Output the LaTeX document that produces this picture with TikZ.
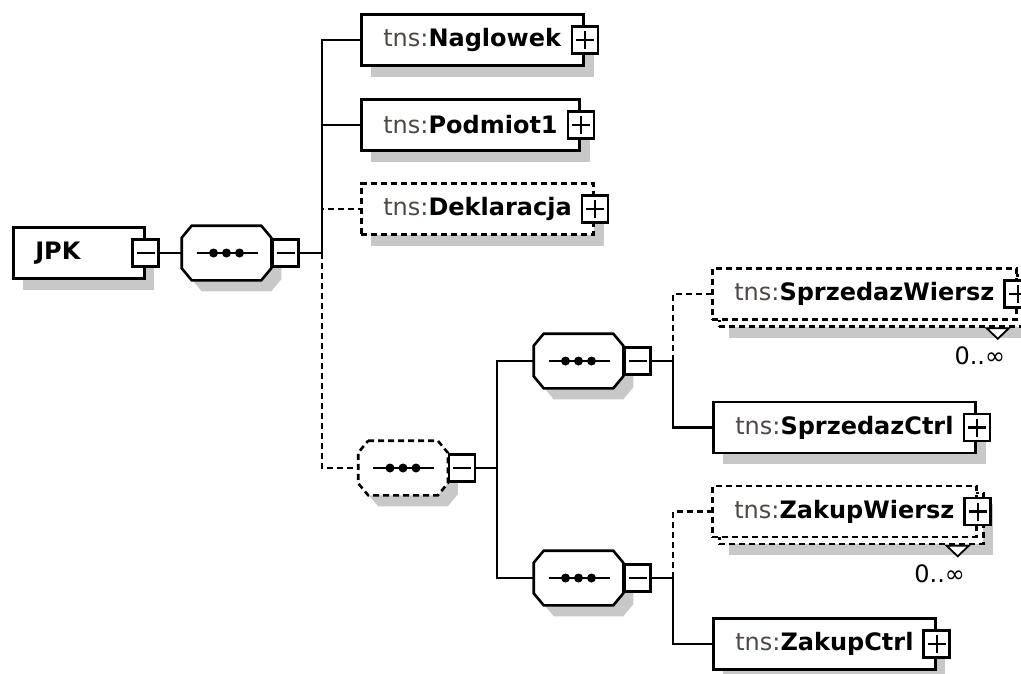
\documentclass[tikz,border=0pt]{standalone}
\usepackage{fontspec}
\setmainfont{DejaVu Sans}
\usetikzlibrary{shadows}
\definecolor{tnsgray}{RGB}{80,70,70}
\definecolor{shadowgray}{RGB}{200,200,200}
\newcommand{\el}[1]{{\color{tnsgray}tns:}\textbf{#1}\hspace{9pt}}
% octagon round a sequence node
\newcommand{\octpath}[1]{([xshift=10pt]#1.north west) -- ([xshift=-10pt]#1.north east)
  -- ([yshift=-12pt]#1.north east) -- ([yshift=12pt]#1.south east)
  -- ([xshift=-10pt]#1.south east) -- ([xshift=10pt]#1.south west)
  -- ([yshift=12pt]#1.south west) -- ([yshift=-12pt]#1.north west) -- cycle}
\begin{document}
\begin{tikzpicture}[x=1pt, y=-1pt, line width=2.6pt,
        every node/.style={font=\fontsize{24}{28}\selectfont},
        optline/.style={dash pattern=on 6pt off 4pt},
        shade/.style={drop shadow={shadow xshift=10pt, shadow yshift=-11pt, fill=shadowgray, opacity=1}},
        elbase/.style={draw, fill=white, minimum height=51pt, inner xsep=22pt, inner ysep=0pt, anchor=west},
        elbox/.style={elbase, shade},
        optbox/.style={elbox, optline},
        multibox/.style={elbase, optline,
          general shadow={shadow xshift=17pt, shadow yshift=-18pt, fill=shadowgray, opacity=1},
          general shadow={shadow xshift=7pt, shadow yshift=-7pt, fill=white, draw, optline, line width=2.6pt}},
        seqbox/.style={minimum width=87pt, minimum height=52pt, inner sep=0pt},
        minusbox/.style={draw, fill=white, minimum width=26pt, minimum height=27pt, inner sep=0pt,
          path picture={\draw[line width=2.2pt] ([xshift=-9pt]path picture bounding box.center) -- ([xshift=9pt]path picture bounding box.center);}},
        plusbox/.style={minusbox,
          path picture={\draw[line width=2.2pt] ([xshift=-9pt]path picture bounding box.center) -- ([xshift=9pt]path picture bounding box.center)
            ([yshift=-9pt]path picture bounding box.center) -- ([yshift=9pt]path picture bounding box.center);}}
      ]
      \useasboundingbox (0, 0) rectangle (1021, 673);
      % root
      \node[elbox, text width=87pt, align=left] at (12, 253) (jpk) {\textbf{JPK}};
      \node[minusbox] at (jpk.east) (jpkm) {};

      % sequences
      \node[seqbox] at (226.5, 253) (seq0) {};
      \node[seqbox] at (403, 468) (seq1) {};
      \node[seqbox] at (578.5, 361) (seq2) {};
      \node[seqbox] at (578.5, 578) (seq3) {};
      \foreach \s/\ls in {seq0/solid, seq1/optline, seq2/solid, seq3/solid} {
        \fill[shadowgray, transform canvas={shift={(10, 11)}}] \octpath{\s};
        \draw[fill=white, \ls] \octpath{\s};
        \draw ([xshift=-30pt]\s.center) -- ([xshift=31pt]\s.center);
        \foreach \d in {-13, 0, 13}
          \fill ([xshift=\d pt]\s.center) circle (4.5pt);
        \node[minusbox, anchor=west] at (\s.east) (\s m) {};
      }
      \coordinate (bus0) at (322, 253);
      \coordinate (bus1) at (497, 468);
      \coordinate (bus2) at (673, 361);
      \coordinate (bus3) at (673, 578);

      % first level
      \node[elbox] at (360, 40) (nag) {\el{Naglowek}};
      \node[elbox] at (360, 125) (pod) {\el{Podmiot1}};
      \node[optbox] at (360, 209) (dek) {\el{Deklaracja}};

      % leaves
      \node[multibox] at (711, 294) (sw) {\el{SprzedazWiersz}};
      \node[elbox] at (712, 427.5) (sc) {\el{SprzedazCtrl}};
      \node[multibox] at (711, 511.5) (zw) {\el{ZakupWiersz}};
      \node[elbox] at (712, 644) (zc) {\el{ZakupCtrl}};
      \foreach \e in {nag, pod, dek, sw, sc, zw, zc}
        \node[plusbox] at (\e.east) (\e p) {};
      \foreach \m in {sw, zw} {
        \draw[fill=white, line width=1.8pt] ([shift={(-31, 7.5)}]\m.south east) -- ([shift={(-9, 7.5)}]\m.south east)
          -- ([shift={(-20, 18)}]\m.south east) -- cycle;
        \node at ([shift={(-38, 35)}]\m.south east) (\m occ) {0..∞};
      }

      % edges
      \draw (jpkm) -- (seq0);
      \draw (seq0m) -- (bus0);
      \draw (bus0) |- (nag);
      \draw (bus0) |- (pod);
      \draw[optline] (bus0) |- (dek);
      \draw[optline] (bus0) |- (seq1);
      \draw (seq1m) -- (bus1);
      \draw (bus1) |- (seq2);
      \draw (bus1) |- (seq3);
      \draw (seq2m) -- (bus2);
      \draw[optline] (bus2) |- (sw);
      \draw (bus2) |- (sc);
      \draw (seq3m) -- (bus3);
      \draw[optline] (bus3) |- (zw);
      \draw (bus3) |- (zc);
  \end{tikzpicture}
\end{document}
